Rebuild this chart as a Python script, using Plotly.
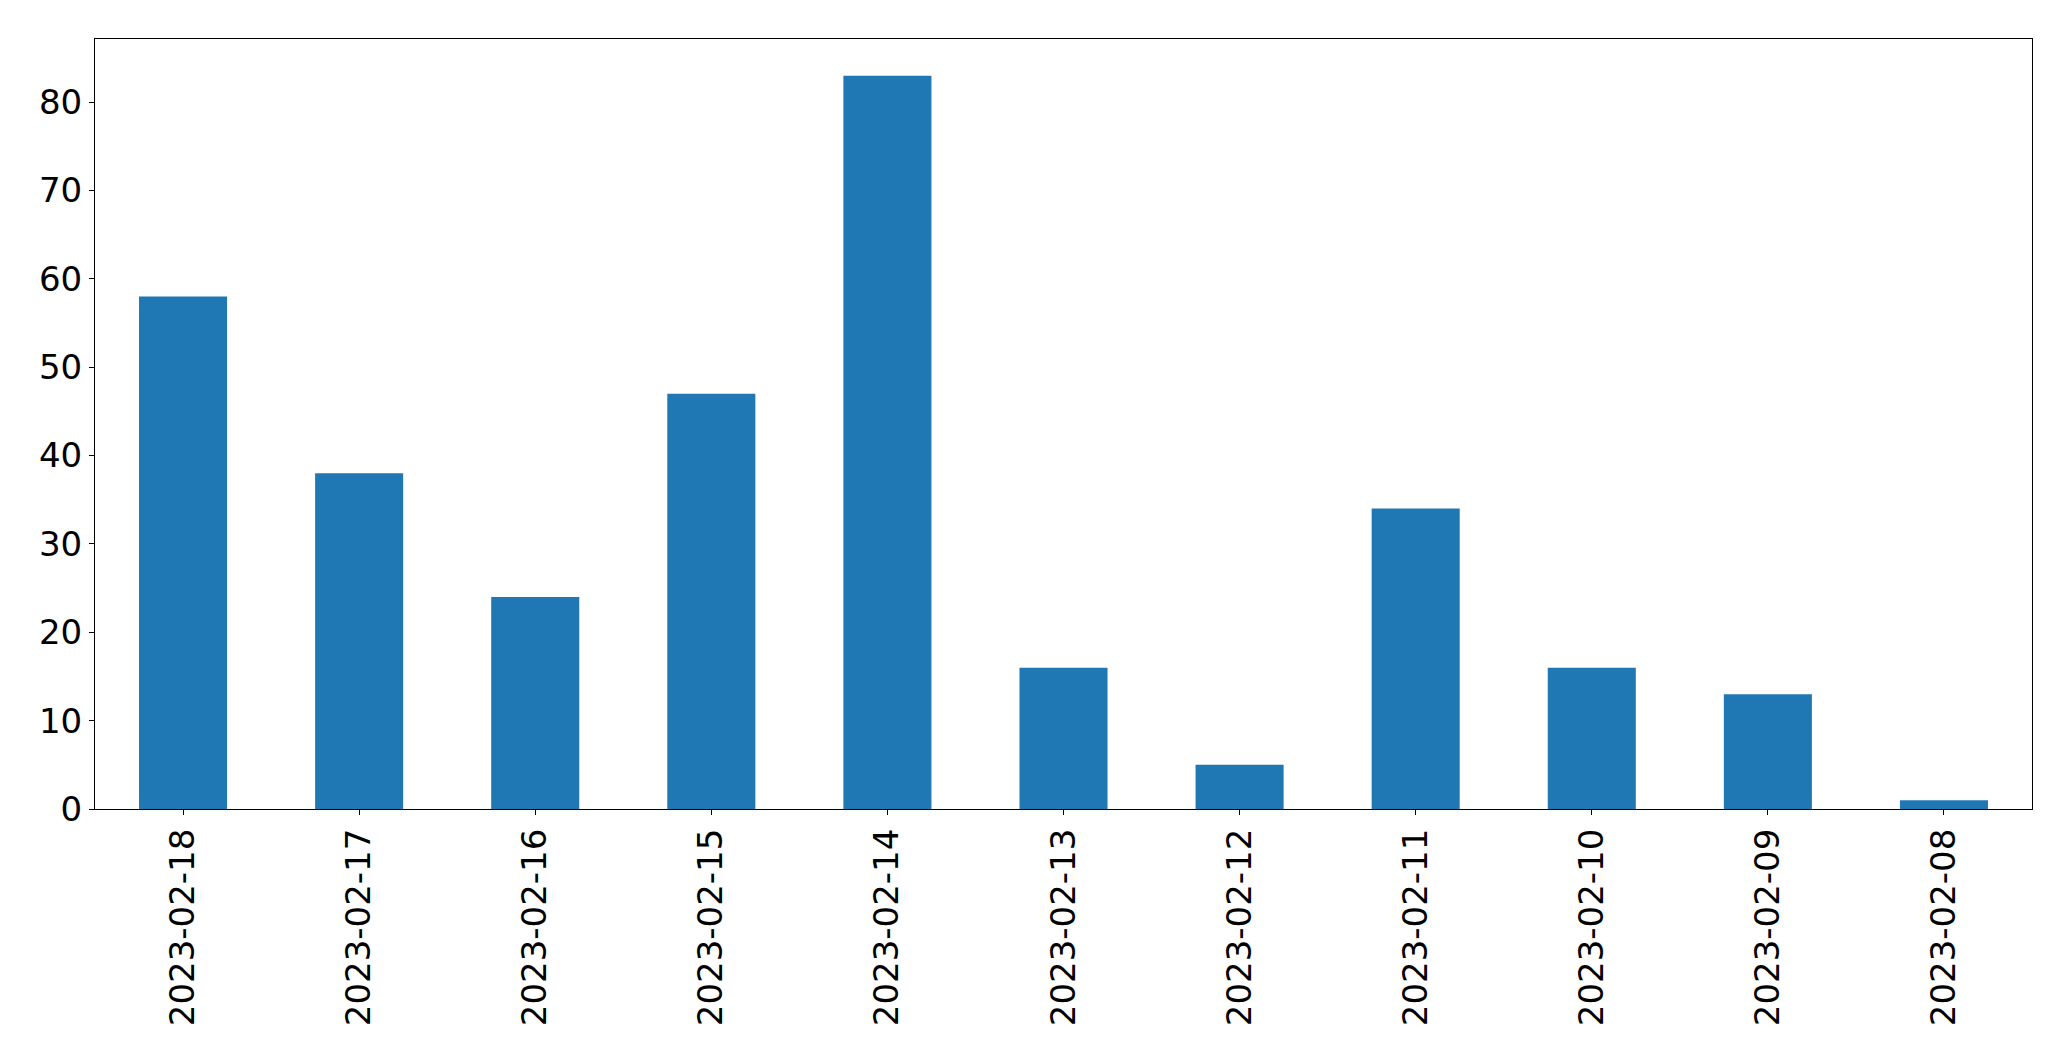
import plotly.graph_objects as go

dates = ["2023-02-18", "2023-02-17", "2023-02-16", "2023-02-15", "2023-02-14",
         "2023-02-13", "2023-02-12", "2023-02-11", "2023-02-10", "2023-02-09", "2023-02-08"]
counts = [58, 38, 24, 47, 83, 16, 5, 34, 16, 13, 1]

fig = go.Figure(go.Bar(x=dates, y=counts, width=0.5, marker=dict(color="#1f77b4", line=dict(width=0))))

font = dict(family="DejaVu Sans", size=34, color="black")
fig.update_layout(
    width=2063, height=1053,
    margin=dict(l=87, r=39, t=31, b=252, autoexpand=False),
    plot_bgcolor="white", paper_bgcolor="white",
    showlegend=False,
    font=font,
)
fig.update_xaxes(
    type="category", range=[-0.5, 10.5], tickangle=-90,
    showline=True, mirror=True, linecolor="black", linewidth=1.1,
    ticks="outside", ticklen=5, tickwidth=1.1, tickcolor="black",
    showgrid=False, zeroline=False, tickfont=font,
)
fig.update_yaxes(
    range=[0, 87.15], tickvals=[0, 10, 20, 30, 40, 50, 60, 70, 80],
    showline=True, mirror=True, linecolor="black", linewidth=1.1,
    ticks="outside", ticklen=5, tickwidth=1.1, tickcolor="black",
    showgrid=False, zeroline=False, tickfont=font,
)
fig.write_html("out.html")
